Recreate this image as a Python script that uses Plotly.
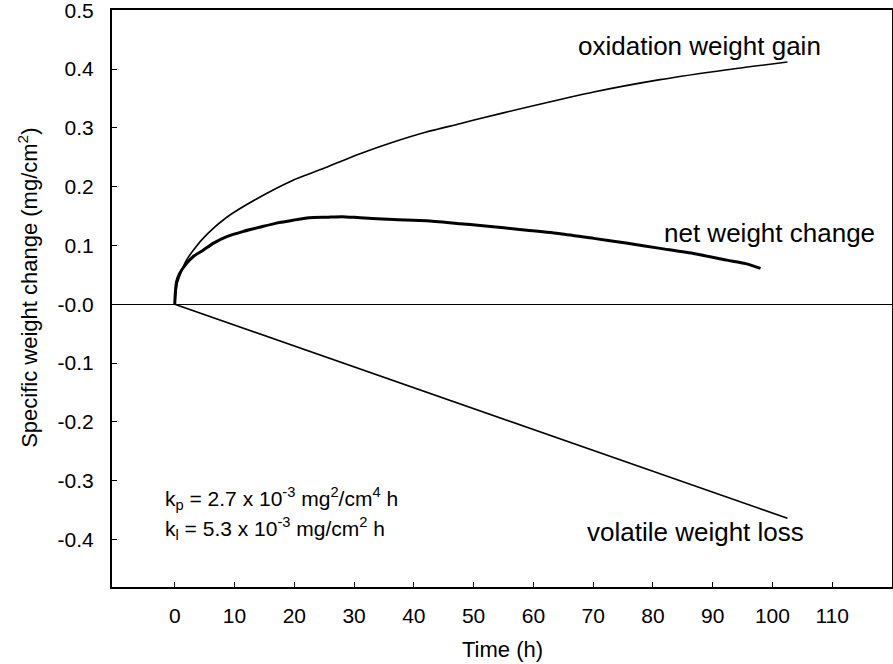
import plotly.graph_objects as go

# Oxidation weight gain (mg/cm^2) vs time (h)
ox_t = [0, 0.4, 1.7, 3.1, 5.5, 8.7, 14.2, 19.8, 25.4, 31.0, 36.6, 42.1, 47.7, 51.1, 58.9, 70.1, 81.2, 92.4, 102.5]
ox_v = [0, 0.035, 0.070, 0.092, 0.120, 0.148, 0.182, 0.211, 0.233, 0.256, 0.276, 0.293, 0.307, 0.316, 0.335, 0.361, 0.382, 0.399, 0.412]

# Net weight change
net_t = [0, 0.1, 0.3, 0.8, 1.95, 3.2, 4.75, 6.5, 8.7, 11.5, 14.2, 17.0, 19.8, 22.5, 25.4, 28.0, 31.0, 36.6, 42.1, 47.7, 51.1, 58.9, 64.5, 70.1, 75.5, 81.2, 87.0, 92.4, 95.5, 98.0]
net_v = [0, 0.02, 0.038, 0.052, 0.069, 0.082, 0.092, 0.104, 0.115, 0.124, 0.131, 0.138, 0.143, 0.147, 0.148, 0.149, 0.147, 0.144, 0.142, 0.137, 0.134, 0.126, 0.120, 0.112, 0.104, 0.095, 0.086, 0.075, 0.069, 0.061]

# Volatile weight loss
vol_t = [0, 71.2, 102.5]
vol_v = [0, -0.253, -0.364]

x_ticks = [0, 10, 20, 30, 40, 50, 60, 70, 80, 90, 100, 110]
y_ticks = [-0.4, -0.3, -0.2, -0.1, 0.0, 0.1, 0.2, 0.3, 0.4, 0.5]
y_tick_text = ["-0.4", "-0.3", "-0.2", "-0.1", "-0.0", "0.1", "0.2", "0.3", "0.4", "0.5"]

FONT = "Liberation Sans, Arial, Helvetica, sans-serif"

fig = go.Figure()
fig.add_trace(go.Scatter(x=ox_t, y=ox_v, mode="lines", line=dict(color="black", width=1.6, shape="spline", smoothing=0.6), showlegend=False))
fig.add_trace(go.Scatter(x=net_t, y=net_v, mode="lines", line=dict(color="black", width=3, shape="spline", smoothing=0.6), showlegend=False))
fig.add_trace(go.Scatter(x=vol_t, y=vol_v, mode="lines", line=dict(color="black", width=1.6), showlegend=False))

ann_font = dict(family=FONT, size=26, color="black")
k_font = dict(family=FONT, size=21, color="black")
annotations = [
    dict(x=67.2, y=0.44, text="oxidation weight gain", font=ann_font),
    dict(x=81.6, y=0.121, text="net weight change", font=ann_font),
    dict(x=68.7, y=-0.388, text="volatile weight loss", font=ann_font),
    dict(x=-2.0, y=-0.33, text="k<sub>p</sub> = 2.7 x 10<sup>-3</sup> mg<sup>2</sup>/cm<sup>4</sup> h", font=k_font),
    dict(x=-2.0, y=-0.381, text="k<sub>l</sub> = 5.3 x 10<sup>-3</sup> mg/cm<sup>2</sup> h", font=k_font),
]
for a in annotations:
    a.update(xref="x", yref="y", xanchor="left", yanchor="middle", showarrow=False)

# axis titles as annotations (paper coordinates)
annotations.append(dict(xref="paper", yref="paper", x=0.5, y=-0.109, text="Time (h)",
                        font=dict(family=FONT, size=22, color="black"),
                        xanchor="center", yanchor="middle", showarrow=False))
annotations.append(dict(xref="paper", yref="paper", x=-0.108, y=0.518,
                        text="Specific weight change (mg/cm<sup>2</sup>)", textangle=-90,
                        font=dict(family=FONT, size=22, color="black"),
                        xanchor="center", yanchor="middle", showarrow=False))

fig.update_layout(
    width=893, height=664,
    margin=dict(l=112, r=1, t=10, b=77),
    paper_bgcolor="white", plot_bgcolor="white",
    font=dict(family=FONT, size=21, color="black"),
    annotations=annotations,
    xaxis=dict(
        range=[-10.5, 120], tickvals=x_ticks, ticks="inside", ticklen=5, tickwidth=1, tickcolor="black",
        showgrid=False, zeroline=False, showline=True, linecolor="black", linewidth=2, mirror=True,
        ticklabelstandoff=9, tickfont=dict(family=FONT, size=21), automargin=False,
        ticklabeloverflow="allow",
    ),
    yaxis=dict(
        range=[-0.481, 0.5005], tickvals=y_ticks, ticktext=y_tick_text, ticks="inside", ticklen=5, tickwidth=1, tickcolor="black",
        showgrid=False, zeroline=True, zerolinecolor="black", zerolinewidth=1.2,
        showline=True, linecolor="black", linewidth=2, mirror=True,
        ticklabelstandoff=12, tickfont=dict(family=FONT, size=21), automargin=False,
        ticklabeloverflow="allow",
    ),
)

fig.write_html("out.html", config={"displayModeBar": False},
               post_script="document.body.style.margin='0';")
